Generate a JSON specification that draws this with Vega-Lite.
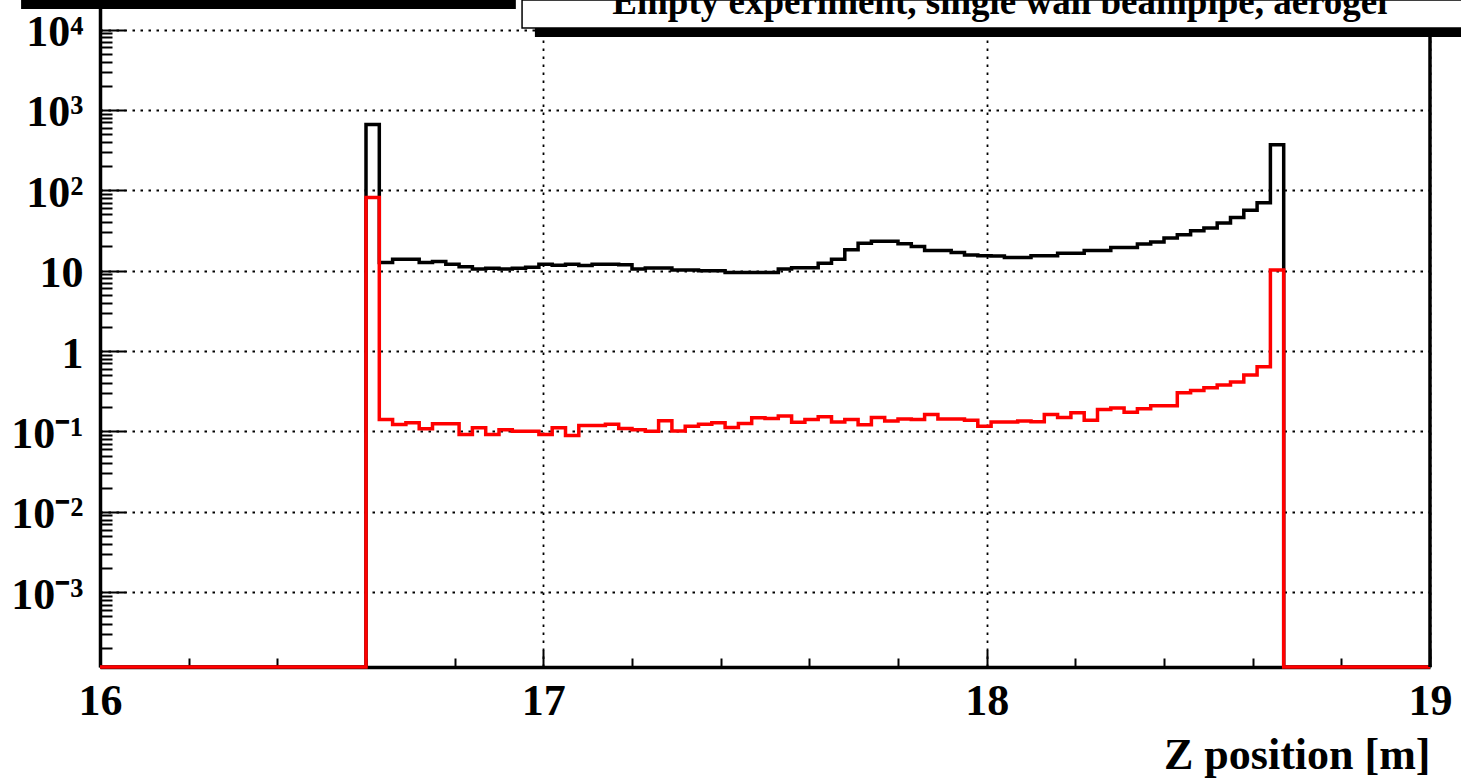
{
  "$schema": "https://vega.github.io/schema/vega-lite/v6.json",
  "width": 1330,
  "height": 667,
  "autosize": {"type": "none"},
  "padding": {"left": 100, "top": 0, "right": 31, "bottom": 113},
  "background": "white",
  "config": {"view": {"stroke": null}, "font": "Liberation Serif"},
  "resolve": {"axis": {"x": "independent", "y": "independent"}},
  "datasets": {
    "h": [
      {"z": 16.00, "all": 0, "sel": 0}, {"z": 16.03, "all": 0, "sel": 0}, {"z": 16.06, "all": 0, "sel": 0}, {"z": 16.09, "all": 0, "sel": 0},
      {"z": 16.12, "all": 0, "sel": 0}, {"z": 16.15, "all": 0, "sel": 0}, {"z": 16.18, "all": 0, "sel": 0}, {"z": 16.21, "all": 0, "sel": 0},
      {"z": 16.24, "all": 0, "sel": 0}, {"z": 16.27, "all": 0, "sel": 0}, {"z": 16.30, "all": 0, "sel": 0}, {"z": 16.33, "all": 0, "sel": 0},
      {"z": 16.36, "all": 0, "sel": 0}, {"z": 16.39, "all": 0, "sel": 0}, {"z": 16.42, "all": 0, "sel": 0}, {"z": 16.45, "all": 0, "sel": 0},
      {"z": 16.48, "all": 0, "sel": 0}, {"z": 16.51, "all": 0, "sel": 0}, {"z": 16.54, "all": 0, "sel": 0}, {"z": 16.57, "all": 0, "sel": 0},
      {"z": 16.60, "all": 658, "sel": 81.5},
      {"z": 16.63, "all": 12.6, "sel": 0.141},
      {"z": 16.66, "all": 13.9, "sel": 0.122},
      {"z": 16.69, "all": 13.9, "sel": 0.128},
      {"z": 16.72, "all": 12.6, "sel": 0.108},
      {"z": 16.75, "all": 13.0, "sel": 0.124},
      {"z": 16.78, "all": 12.05, "sel": 0.124},
      {"z": 16.81, "all": 11.2, "sel": 0.0914},
      {"z": 16.84, "all": 10.5, "sel": 0.111},
      {"z": 16.87, "all": 10.7, "sel": 0.0914},
      {"z": 16.90, "all": 10.5, "sel": 0.105},
      {"z": 16.93, "all": 10.7, "sel": 0.100},
      {"z": 16.96, "all": 11.0, "sel": 0.100},
      {"z": 16.99, "all": 12.05, "sel": 0.0914},
      {"z": 17.02, "all": 11.7, "sel": 0.111},
      {"z": 17.05, "all": 12.05, "sel": 0.0889},
      {"z": 17.08, "all": 11.6, "sel": 0.1186},
      {"z": 17.11, "all": 12.05, "sel": 0.1186},
      {"z": 17.14, "all": 12.05, "sel": 0.123},
      {"z": 17.17, "all": 11.8, "sel": 0.1087},
      {"z": 17.20, "all": 10.5, "sel": 0.105},
      {"z": 17.23, "all": 10.8, "sel": 0.100},
      {"z": 17.26, "all": 10.8, "sel": 0.1355},
      {"z": 17.29, "all": 10.2, "sel": 0.101},
      {"z": 17.32, "all": 10.2, "sel": 0.116},
      {"z": 17.35, "all": 9.95, "sel": 0.123},
      {"z": 17.38, "all": 9.95, "sel": 0.128},
      {"z": 17.41, "all": 9.5, "sel": 0.112},
      {"z": 17.44, "all": 9.5, "sel": 0.125},
      {"z": 17.47, "all": 9.5, "sel": 0.148},
      {"z": 17.50, "all": 9.5, "sel": 0.145},
      {"z": 17.53, "all": 10.5, "sel": 0.155},
      {"z": 17.56, "all": 10.9, "sel": 0.130},
      {"z": 17.59, "all": 10.9, "sel": 0.141},
      {"z": 17.62, "all": 12.4, "sel": 0.152},
      {"z": 17.65, "all": 13.9, "sel": 0.131},
      {"z": 17.68, "all": 18.2, "sel": 0.141},
      {"z": 17.71, "all": 22.0, "sel": 0.121},
      {"z": 17.74, "all": 23.3, "sel": 0.149},
      {"z": 17.77, "all": 23.3, "sel": 0.135},
      {"z": 17.80, "all": 21.6, "sel": 0.143},
      {"z": 17.83, "all": 20.0, "sel": 0.141},
      {"z": 17.86, "all": 17.8, "sel": 0.162},
      {"z": 17.89, "all": 17.8, "sel": 0.143},
      {"z": 17.92, "all": 16.8, "sel": 0.143},
      {"z": 17.95, "all": 15.7, "sel": 0.138},
      {"z": 17.98, "all": 15.3, "sel": 0.116},
      {"z": 18.01, "all": 15.2, "sel": 0.131},
      {"z": 18.04, "all": 14.6, "sel": 0.131},
      {"z": 18.07, "all": 14.6, "sel": 0.135},
      {"z": 18.10, "all": 15.3, "sel": 0.132},
      {"z": 18.13, "all": 15.3, "sel": 0.162},
      {"z": 18.16, "all": 16.5, "sel": 0.149},
      {"z": 18.19, "all": 16.5, "sel": 0.170},
      {"z": 18.22, "all": 17.8, "sel": 0.138},
      {"z": 18.25, "all": 17.8, "sel": 0.187},
      {"z": 18.28, "all": 19.4, "sel": 0.195},
      {"z": 18.31, "all": 19.4, "sel": 0.1735},
      {"z": 18.34, "all": 21.4, "sel": 0.191},
      {"z": 18.37, "all": 22.7, "sel": 0.208},
      {"z": 18.40, "all": 25.4, "sel": 0.208},
      {"z": 18.43, "all": 27.9, "sel": 0.302},
      {"z": 18.46, "all": 31.3, "sel": 0.323},
      {"z": 18.49, "all": 33.9, "sel": 0.349},
      {"z": 18.52, "all": 39.1, "sel": 0.377},
      {"z": 18.55, "all": 45.9, "sel": 0.411},
      {"z": 18.58, "all": 56.5, "sel": 0.502},
      {"z": 18.61, "all": 70.0, "sel": 0.637},
      {"z": 18.64, "all": 370, "sel": 10.2},
      {"z": 18.67, "all": 0, "sel": 0}, {"z": 18.70, "all": 0, "sel": 0}, {"z": 18.73, "all": 0, "sel": 0}, {"z": 18.76, "all": 0, "sel": 0},
      {"z": 18.79, "all": 0, "sel": 0}, {"z": 18.82, "all": 0, "sel": 0}, {"z": 18.85, "all": 0, "sel": 0}, {"z": 18.88, "all": 0, "sel": 0},
      {"z": 18.91, "all": 0, "sel": 0}, {"z": 18.94, "all": 0, "sel": 0}, {"z": 18.97, "all": 0, "sel": 0},
      {"z": 19.00, "all": 0, "sel": 0}
    ]
  },
  "layer": [
    {
      "data": {"name": "h"},
      "mark": {"type": "line", "interpolate": "step-after", "color": "black", "strokeWidth": 3.5},
      "encoding": {
        "x": {
          "field": "z", "type": "quantitative",
          "scale": {"domain": [16, 19], "nice": false, "zero": false},
          "axis": {
            "orient": "bottom",
            "values": [16, 17, 18, 19],
            "format": "d",
            "labelFont": "Liberation Serif", "labelFontWeight": "bold", "labelFontSize": 44, "labelColor": "black",
            "labelPadding": 29, "labelFlush": false, "labelOverlap": false,
            "tickSize": -17, "tickColor": "black", "tickWidth": 2,
            "grid": true, "gridColor": "black", "gridDash": [2.5, 5.5], "gridWidth": 1.8,
            "domainColor": "black", "domainWidth": 3.5,
            "title": "Z position [m]", "titleFont": "Liberation Serif", "titleFontWeight": "bold", "titleFontSize": 44,
            "titleColor": "black", "titleAnchor": "end", "titleAlign": "right", "titlePadding": 10
          }
        },
        "y": {
          "field": "all", "type": "quantitative",
          "scale": {"type": "log", "domain": [0.0001169, 23330], "clamp": true, "nice": false},
          "axis": {
            "orient": "left",
            "values": [0.001, 0.01, 0.1, 1, 10, 100, 1000, 10000],
            "labelExpr": "datum.value == 0.001 ? '10⁻³' : datum.value == 0.01 ? '10⁻²' : datum.value == 0.1 ? '10⁻¹' : datum.value == 1 ? '1' : datum.value == 10 ? '10' : datum.value == 100 ? '10²' : datum.value == 1000 ? '10³' : '10⁴'",
            "labelFont": "Liberation Serif", "labelFontWeight": "bold", "labelFontSize": 44, "labelColor": "black",
            "labelAlign": "right", "labelBaseline": "middle", "labelPadding": 42, "labelOverlap": false, "labelOffset": 3,
            "tickSize": -25, "tickColor": "black", "tickWidth": 2,
            "grid": true, "gridColor": "black", "gridDash": [2.5, 5.5], "gridWidth": 1.8,
            "domainColor": "black", "domainWidth": 3.5,
            "title": null
          }
        }
      }
    },
    {
      "data": {"name": "h"},
      "mark": {"type": "line", "interpolate": "step-after", "color": "#ff0000", "strokeWidth": 3.5},
      "encoding": {
        "x": {
          "field": "z", "type": "quantitative",
          "axis": {
            "orient": "bottom",
            "values": [16.2, 16.4, 16.6, 16.8, 17.2, 17.4, 17.6, 17.8, 18.2, 18.4, 18.6, 18.8],
            "labels": false, "grid": false, "domain": false,
            "tickSize": -9, "tickColor": "black", "tickWidth": 2,
            "title": null
          }
        },
        "y": {
          "field": "sel", "type": "quantitative",
          "axis": {
            "orient": "left",
            "values": [0.0002, 0.0003, 0.0004, 0.0005, 0.0006, 0.0007, 0.0008, 0.0009, 0.002, 0.003, 0.004, 0.005, 0.006, 0.007, 0.008, 0.009, 0.02, 0.03, 0.04, 0.05, 0.06, 0.07, 0.08, 0.09, 0.2, 0.3, 0.4, 0.5, 0.6, 0.7, 0.8, 0.9, 2, 3, 4, 5, 6, 7, 8, 9, 20, 30, 40, 50, 60, 70, 80, 90, 200, 300, 400, 500, 600, 700, 800, 900, 2000, 3000, 4000, 5000, 6000, 7000, 8000, 9000, 20000],
            "labels": false, "grid": false, "domain": false,
            "tickSize": -12, "tickColor": "black", "tickWidth": 2,
            "title": null
          }
        }
      }
    },
    {
      "data": {"values": [{}]},
      "mark": {"type": "rule", "color": "black", "strokeWidth": 3.5},
      "encoding": {"x": {"datum": 19, "type": "quantitative", "axis": null}}
    },
    {
      "data": {"values": [{}]},
      "mark": {"type": "rect", "fill": "white", "stroke": "black", "strokeWidth": 1.5},
      "encoding": {
        "x": {"datum": 16.952, "type": "quantitative", "axis": null},
        "x2": {"datum": 19.1},
        "y": {"datum": 1000000, "type": "quantitative", "axis": null},
        "y2": {"datum": 10450}
      }
    },
    {
      "data": {"values": [{}]},
      "mark": {"type": "rect", "fill": "black"},
      "encoding": {
        "x": {"datum": 16.981, "type": "quantitative", "axis": null},
        "x2": {"datum": 19.1},
        "y": {"datum": 10450, "type": "quantitative", "axis": null},
        "y2": {"datum": 8080}
      }
    },
    {
      "data": {"values": [{}]},
      "mark": {"type": "rect", "fill": "black"},
      "encoding": {
        "x": {"datum": 15.822, "type": "quantitative", "axis": null},
        "x2": {"datum": 16.938},
        "y": {"datum": 1000000, "type": "quantitative", "axis": null},
        "y2": {"datum": 18030}
      }
    },
    {
      "data": {"values": [{}]},
      "mark": {"type": "text", "font": "Liberation Serif", "fontWeight": "bold", "fontSize": 37, "baseline": "alphabetic", "align": "center", "color": "black"},
      "encoding": {
        "x": {"datum": 18.03, "type": "quantitative", "axis": null},
        "y": {"datum": 15630, "type": "quantitative", "axis": null},
        "text": {"value": "Empty experiment, single wall beampipe, aerogel"}
      }
    }
  ]
}
